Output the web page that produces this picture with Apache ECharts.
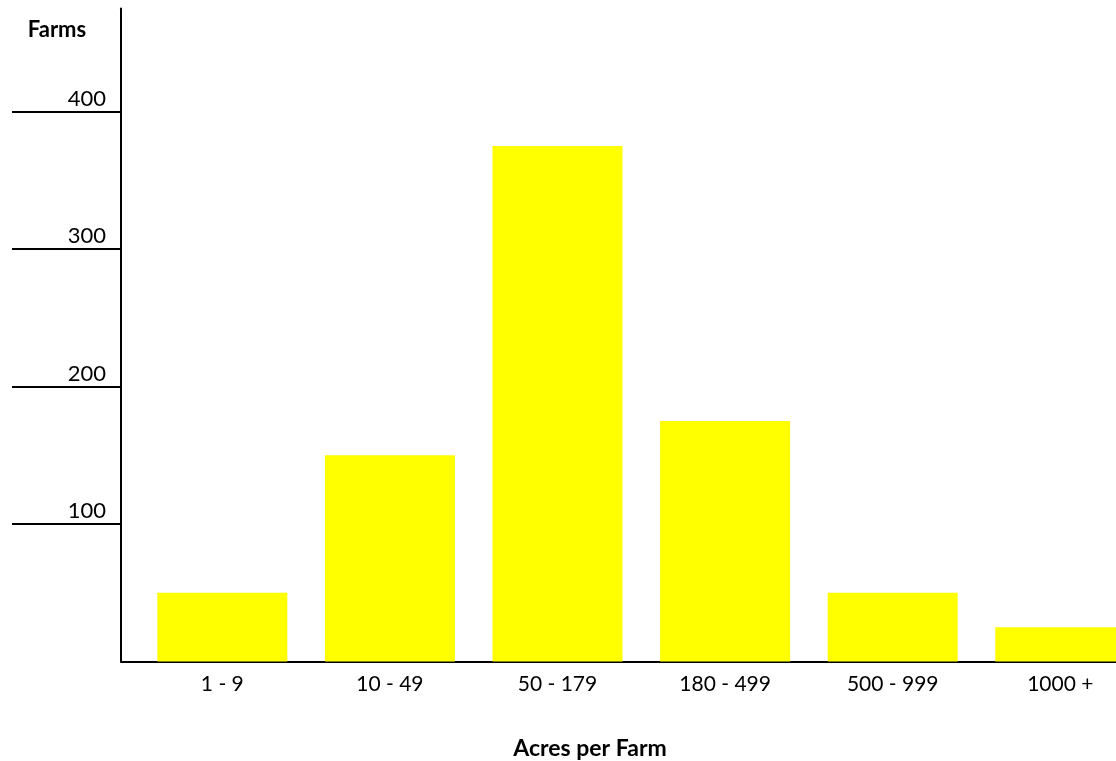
<!DOCTYPE html>
<html>
<head>
<meta charset="utf-8">
<script src="https://cdn.jsdelivr.net/npm/echarts@6/dist/echarts.min.js"></script>
<style>
html,body{margin:0;padding:0;background:#fff;overflow:hidden;width:1116px;height:761px;}
#c{width:1150px;height:761px;}
</style>
</head>
<body>
<div id="c"></div>
<script>
const categories = ['1 - 9','10 - 49','50 - 179','180 - 499','500 - 999','1000 +'];
const farms = [50, 150, 375, 175, 50, 25];
const yTicks = [100, 200, 300, 400];

const FONT = 'Lato, "Open Sans", sans-serif';
const chart = echarts.init(document.getElementById('c'));
chart.setOption({
  animation:false,
  grid:[
    {left:138.5, width:1005.6, top:8.6, bottom:99.5},
    {left:121, width:1029, top:8.6, bottom:99.5}
  ],
  graphic:[
    {type:'text', style:{x:57, y:30, text:'Farms', align:'center', verticalAlign:'middle', font:'bold 22px '+FONT, fill:'#000'}},
    {type:'text', style:{x:590, y:749, text:'Acres per Farm', align:'center', verticalAlign:'middle', font:'bold 23px '+FONT, fill:'#000'}}
  ],
  xAxis:[
    {type:'category', gridIndex:0, data:categories,
     axisLine:{show:false}, axisTick:{show:false},
     axisLabel:{color:'#000', fontSize:21, fontFamily:FONT, margin:12}},
    {type:'value', gridIndex:1, min:0, max:1,
     axisLine:{show:true, lineStyle:{color:'#000', width:2}},
     axisTick:{show:false}, axisLabel:{show:false}, splitLine:{show:false}}
  ],
  yAxis:[
    {type:'value', gridIndex:0, min:0, max:475, interval:100, offset:17.5,
     axisLine:{show:true, lineStyle:{color:'#000', width:2}},
     axisTick:{show:true, customValues:yTicks, length:109, lineStyle:{color:'#000', width:2}},
     axisLabel:{customValues:yTicks, color:'#000', fontSize:22, fontFamily:FONT, margin:15,
       verticalAlign:'bottom', padding:[0,0,2,0]},
     splitLine:{show:false}},
    {type:'value', gridIndex:1, min:0, max:1, show:false}
  ],
  series:[{
    type:'bar', xAxisIndex:0, yAxisIndex:0, data:farms, barWidth:130,
    itemStyle:{color:'#FFFF00'}
  }]
});
</script>
</body>
</html>
